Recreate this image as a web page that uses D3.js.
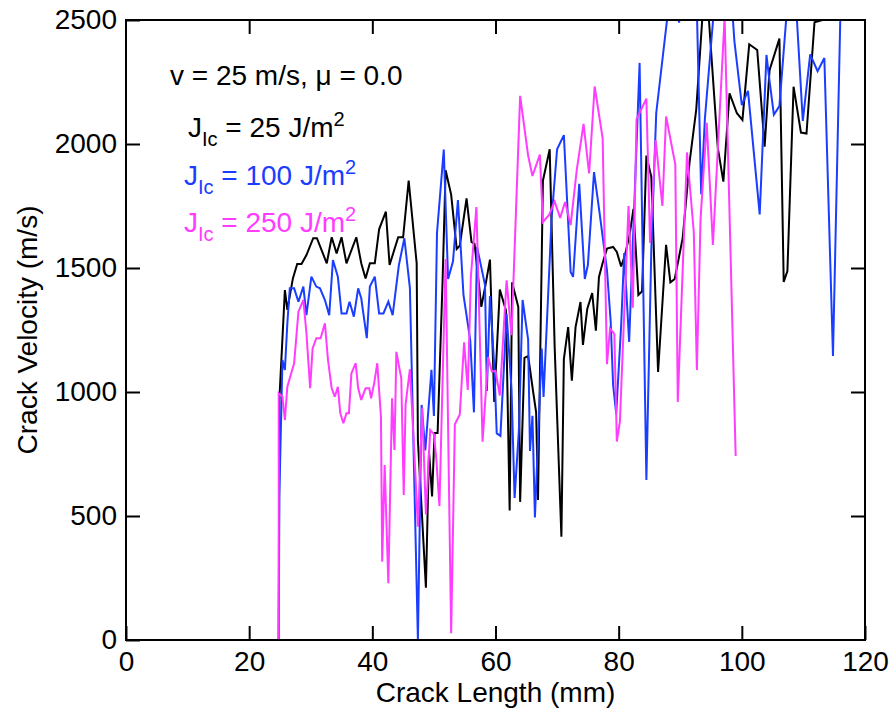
<!DOCTYPE html>
<html>
<head>
<meta charset="utf-8">
<script src="https://cdn.jsdelivr.net/npm/d3@7"></script>
<style>
  html, body { margin: 0; padding: 0; background: #fff; }
  svg { display: block; font-family: "Liberation Sans", Arial, Helvetica, sans-serif; }
</style>
</head>
<body>
<svg id="chart" width="892" height="714"></svg>
<script>
// ---- data: [crack length (mm), crack velocity (m/s)] ----
const jic25 = [[24.8,0],[24.9,968],[25.8,1411],[26.2,1331],[27.1,1458],[27.8,1516],[28.5,1516],[29.3,1552],[30.4,1620],[31.0,1620],[32.6,1519],[33.4,1624],[34.2,1559],[35.0,1624],[35.8,1519],[37.4,1624],[38.2,1519],[38.9,1458],[39.6,1519],[40.4,1519],[41.1,1656],[42.2,1727],[42.8,1512],[44.2,1624],[45.0,1624],[45.9,1852],[47.2,1519],[47.4,805],[48.7,211],[49.2,762],[49.7,579],[50.1,835],[50.6,835],[51.4,1442],[51.9,1894],[52.8,1796],[53.7,1577],[54.2,1590],[55.3,1781],[56.1,1605],[56.6,1597],[57.7,1343],[58.4,1435],[59.1,1534],[59.8,960],[60.7,1413],[61.7,1329],[62.3,522],[62.7,1442],[63.7,1343],[64.0,557],[64.7,1138],[65.3,1145],[66.1,1003],[66.6,918],[66.9,565],[67.7,1852],[68.8,1979],[69.6,1187],[70.7,416],[71.1,1133],[71.8,1262],[72.4,1046],[73.0,1262],[73.8,1363],[74.2,1190],[74.9,1335],[75.7,1399],[76.3,1247],[76.8,1464],[77.4,1520],[78.1,1578],[79.1,1585],[79.7,1565],[80.4,1506],[81.0,1550],[81.8,1637],[82.4,1738],[83.2,1391],[83.8,1406],[84.5,1953],[85.3,1867],[86.4,1081],[87.7,1593],[88.4,1442],[89.1,1456],[90.4,1621],[91.5,1924],[92.6,2140],[94.1,2700],[96.1,1984],[97.0,1848],[98.0,2204],[99.2,2124],[100.1,2097],[101.2,2402],[102.5,2379],[103.7,1989],[104.5,2298],[106.1,2425],[106.8,1444],[107.4,1488],[108.4,2231],[109.6,2046],[110.5,2042],[111.8,2491],[113.1,2500],[115.8,2505]];

const jic100 = [[24.8,0],[24.9,580],[25.4,1129],[25.8,1089],[26.2,1277],[26.6,1418],[27.3,1418],[28.0,1364],[28.8,1425],[29.3,1310],[30.1,1465],[30.9,1425],[31.5,1418],[32.3,1371],[33.0,1310],[33.6,1532],[34.4,1465],[35.0,1317],[35.8,1317],[36.3,1364],[37.0,1304],[37.7,1418],[38.2,1378],[39.1,1217],[39.6,1425],[40.4,1465],[41.1,1317],[41.8,1317],[42.6,1364],[43.3,1310],[44.3,1510],[45.2,1620],[46.1,1419],[47.4,0],[48.0,948],[48.6,764],[49.6,1089],[50.0,903],[50.5,1641],[51.6,1978],[52.3,1456],[53.1,1527],[53.9,1774],[54.8,1392],[55.9,1208],[56.5,918],[57.0,1585],[58.3,1431],[58.6,1004],[59.1,1387],[59.8,1105],[60.2,833],[60.8,823],[61.8,1315],[62.6,1012],[63.1,573],[63.8,847],[64.4,1371],[65.3,1211],[65.6,762],[66.0,904],[66.4,494],[67.5,1175],[67.8,980],[69.1,1696],[70.0,1979],[71.1,2036],[72.2,1484],[72.6,1464],[73.6,1839],[74.5,1456],[75.0,1512],[76.0,1887],[76.9,1722],[78.1,1492],[78.7,1286],[79.1,1028],[79.6,913],[80.4,1266],[80.9,1560],[81.7,1202],[82.3,1597],[83.4,2327],[84.5,645],[85.3,1573],[86.1,2125],[88.6,2660],[89.8,2490],[91.3,2700],[92.7,2540],[93.4,1797],[94.0,2102],[96.4,2820],[98.5,2520],[98.8,2413],[100.0,2157],[101.0,2214],[102.9,1716],[104.0,2359],[104.4,2274],[105.2,2118],[106.1,2153],[108.2,2820],[109.9,2093],[111.1,2361],[112.3,2294],[113.4,2347],[114.8,1145],[116.0,2520]];

const jic250 = [[24.8,0],[24.8,995],[25.4,981],[25.8,887],[26.2,1021],[27.3,1116],[28.0,1324],[28.8,1371],[29.3,1237],[29.9,1015],[30.3,1176],[30.9,1217],[31.6,1217],[32.3,1277],[32.8,1129],[33.4,1015],[33.9,981],[34.4,1021],[34.8,914],[35.3,874],[35.8,914],[36.2,914],[36.6,1075],[37.3,1116],[37.7,1015],[38.2,968],[38.9,1015],[39.5,1015],[39.8,975],[40.3,1035],[40.8,1116],[41.4,900],[41.6,316],[42.0,706],[42.6,229],[43.2,975],[43.6,766],[43.9,1162],[44.7,1055],[45.1,585],[45.4,950],[46.1,1092],[46.8,766],[47.4,457],[48.1,936],[48.7,506],[49.4,847],[50.0,830],[50.4,726],[50.9,540],[51.9,1536],[52.8,27],[53.4,870],[54.2,909],[54.9,1200],[55.5,1008],[56.0,1465],[56.9,1746],[57.9,800],[58.8,1141],[59.4,1083],[60.0,1085],[60.7,986],[61.8,1450],[62.6,1229],[64.0,2194],[65.3,1953],[66.0,1871],[67.2,1957],[67.7,1686],[68.7,1714],[69.6,1768],[70.5,1702],[71.3,1766],[72.2,1673],[73.2,1897],[74.3,2081],[75.2,1881],[76.1,2232],[77.4,2023],[78.1,1112],[78.6,1256],[79.3,1234],[79.7,800],[80.2,880],[81.6,1750],[82.3,1340],[82.9,2100],[84.5,2183],[85.1,1601],[86.0,2016],[87.1,1750],[87.7,2111],[89.2,1917],[89.6,960],[91.1,1966],[92.2,1644],[92.7,1089],[93.3,1698],[94.3,2085],[95.3,1593],[97.2,2510],[99.0,742]];

const seriesNames = ["25", "100", "250"];
const seriesColors = ["#000000", "#1a3dff", "#ff3cff"];
const seriesData = [jic25, jic100, jic250];

const xTicks = [0, 20, 40, 60, 80, 100, 120];
const yTicks = [0, 500, 1000, 1500, 2000, 2500];
const xLabel = "Crack Length (mm)";
const yLabel = "Crack Velocity (m/s)";
const condition = "v = 25 m/s, \u03bc = 0.0";

// ---- layout ----
const W = 892, H = 714;
const margin = {left: 126, right: 27, top: 20, bottom: 74};
const fs = 28;
const svg = d3.select("#chart");

const x = d3.scaleLinear().domain([0, 120]).range([margin.left, W - margin.right]);
const y = d3.scaleLinear().domain([0, 2500]).range([H - margin.bottom, margin.top]);

svg.append("defs").append("clipPath").attr("id", "plotclip")
  .append("rect")
  .attr("x", x(0)).attr("y", y(2500))
  .attr("width", x(120) - x(0)).attr("height", y(0) - y(2500));

// lines
const line = d3.line().x(d => x(d[0])).y(d => y(d[1]));
const gLines = svg.append("g").attr("clip-path", "url(#plotclip)");
seriesData.forEach((data, i) => {
  gLines.append("path")
    .datum(data)
    .attr("d", line)
    .attr("fill", "none")
    .attr("stroke", seriesColors[i])
    .attr("stroke-width", 2)
    .attr("stroke-linejoin", "miter")
    .attr("stroke-miterlimit", 3);
});

// axes
const tickLen = 14;
const styleAxis = g => {
  g.select(".domain").remove();
  g.selectAll(".tick line").attr("stroke", "#000").attr("stroke-width", 2);
  g.selectAll(".tick text").attr("fill", "#000").attr("font-size", fs)
    .attr("font-family", "Liberation Sans, Arial, sans-serif");
};

svg.append("g")
  .attr("transform", `translate(0,${y(0)})`)
  .call(d3.axisBottom(x).tickValues(xTicks).tickSizeInner(-tickLen).tickSizeOuter(0).tickPadding(11).tickFormat(d3.format("d")))
  .call(styleAxis);

svg.append("g")
  .attr("transform", `translate(${x(0)},0)`)
  .call(d3.axisLeft(y).tickValues(yTicks).tickSizeInner(-tickLen).tickSizeOuter(0).tickPadding(9).tickFormat(d3.format("d")))
  .call(styleAxis);

svg.append("g")
  .attr("transform", `translate(0,${y(2500)})`)
  .call(d3.axisTop(x).tickValues(xTicks.slice(1, -1)).tickSizeInner(-tickLen).tickSizeOuter(0).tickFormat(""))
  .call(styleAxis);

svg.append("g")
  .attr("transform", `translate(${x(120)},0)`)
  .call(d3.axisRight(y).tickValues(yTicks.slice(1, -1)).tickSizeInner(-tickLen).tickSizeOuter(0).tickFormat(""))
  .call(styleAxis);

// frame
svg.append("rect")
  .attr("x", x(0)).attr("y", y(2500))
  .attr("width", x(120) - x(0)).attr("height", y(0) - y(2500))
  .attr("fill", "none").attr("stroke", "#000").attr("stroke-width", 2);

// axis titles
svg.append("text")
  .attr("x", (x(0) + x(120)) / 2 - 0).attr("y", 702)
  .attr("text-anchor", "middle").attr("font-size", fs).attr("fill", "#000")
  .text(xLabel);

svg.append("text")
  .attr("transform", `translate(37,${(y(0) + y(2500)) / 2}) rotate(-90)`)
  .attr("text-anchor", "middle").attr("font-size", fs).attr("fill", "#000")
  .text(yLabel);

// annotation / legend
svg.append("text")
  .attr("x", 170).attr("y", 85)
  .attr("font-size", fs).attr("fill", "#000")
  .text(condition);

const legendPos = [[188, 137], [184, 185], [184, 232]];
seriesNames.forEach((name, i) => {
  const t = svg.append("text")
    .attr("x", legendPos[i][0]).attr("y", legendPos[i][1])
    .attr("font-size", fs).attr("fill", seriesColors[i]);
  t.append("tspan").text("J");
  t.append("tspan").attr("font-size", 20).attr("dy", 9).text("Ic");
  t.append("tspan").attr("dy", -9).text(` = ${name} J/m`);
  t.append("tspan").attr("font-size", 20).attr("dy", -11).text("2");
});
</script>
</body>
</html>
